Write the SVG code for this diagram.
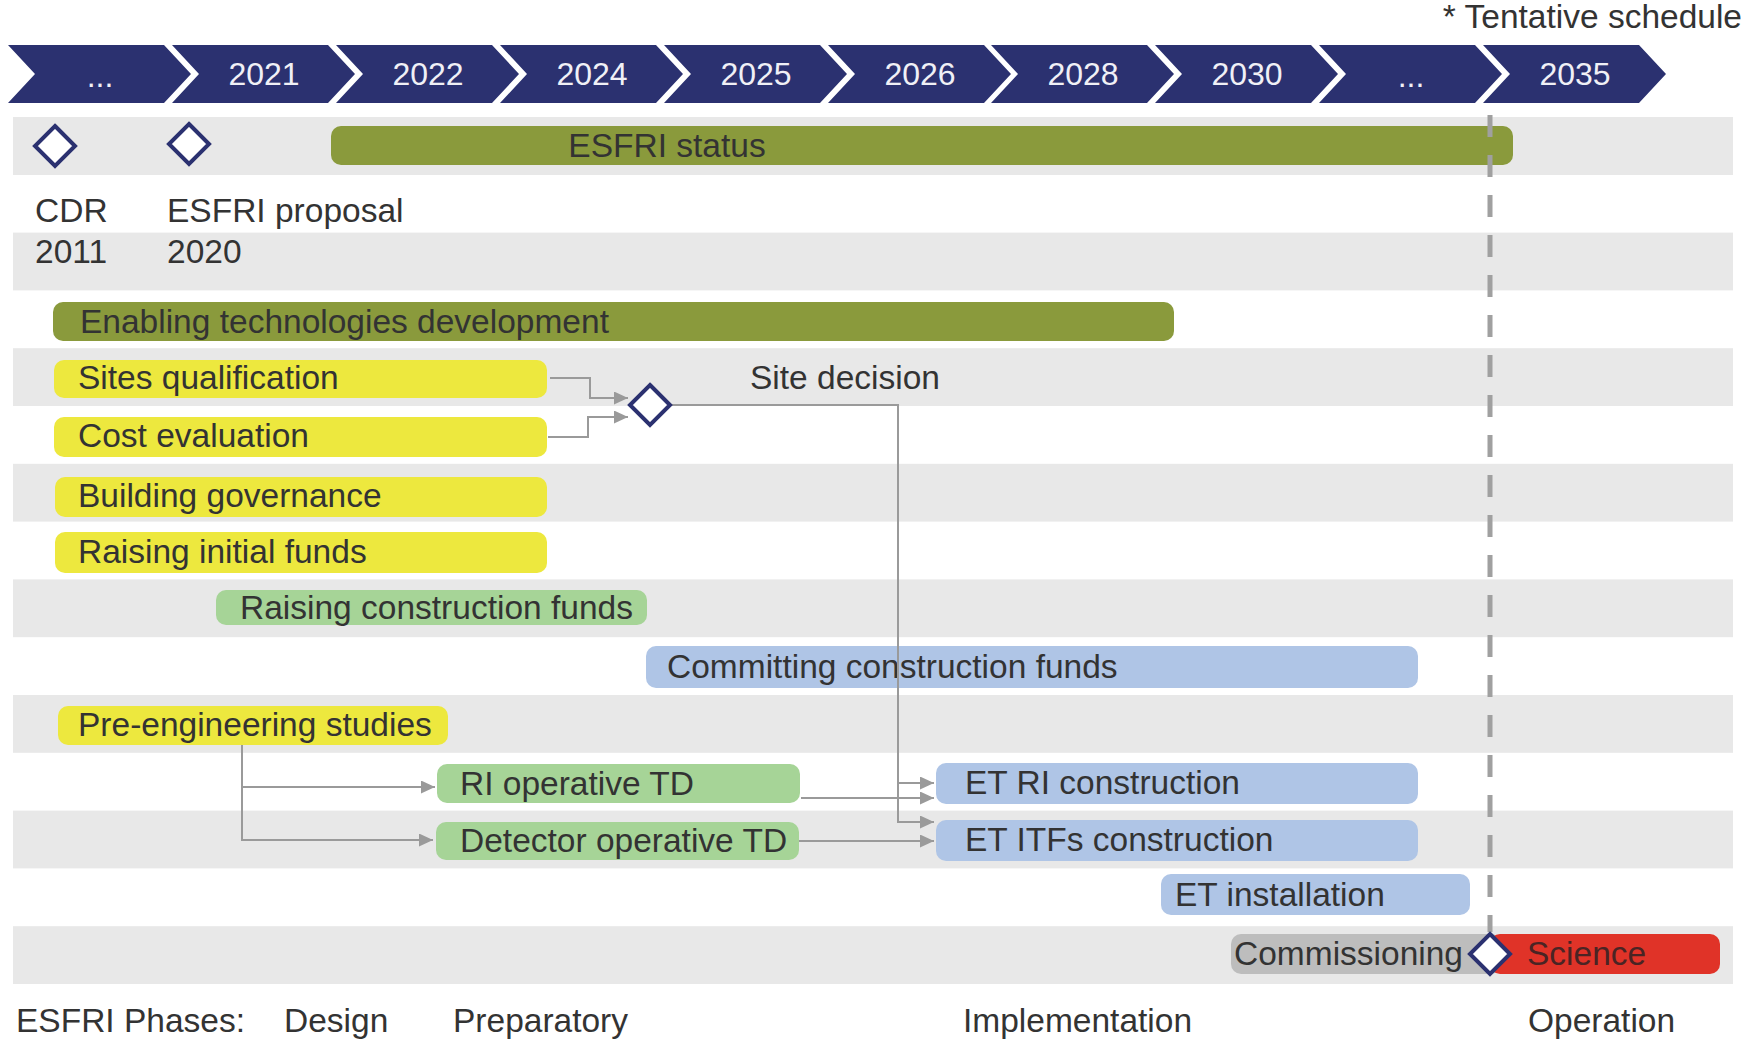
<svg xmlns="http://www.w3.org/2000/svg" xmlns:xlink="http://www.w3.org/1999/xlink" width="1744" height="1039" viewBox="0 0 1744 1039">
<style>
text{font-family:"Liberation Sans",Arial,Helvetica,sans-serif;font-size:33.5px;fill:#333333}
.yr{font-size:32px;fill:#f0f0f6;text-anchor:middle}
.band{fill:#e8e8e8}
.chev{fill:#2b3170}
.olive{fill:#8a9a3c}
.yel{fill:#ede83e}
.grn{fill:#a6d497}
.blu{fill:#afc5e6}
.gry{fill:#bdbdbd}
.red{fill:#e03328}
.ms{fill:#ffffff;stroke:#2b3170;stroke-width:4}
.con{fill:none;stroke:#9a9a9a;stroke-width:2}
.dash{stroke:#a0a0a0;stroke-width:5;stroke-dasharray:22 18}
</style>
<defs>
<polygon id="chev" points="0,45 156,45 183,74 156,103 0,103 27,74"/>
<marker id="ah" markerUnits="userSpaceOnUse" markerWidth="14" markerHeight="13" refX="14" refY="6.5" orient="auto">
<path d="M0,0 L14,6.5 L0,13 z" fill="#9a9a9a"/>
</marker>
</defs>
<rect width="1744" height="1039" fill="#ffffff"/>
<g id="bands">
<rect class="band" x="13" y="117" width="1720" height="58"/>
<rect class="band" x="13" y="232.6" width="1720" height="57.8"/>
<rect class="band" x="13" y="348.2" width="1720" height="57.8"/>
<rect class="band" x="13" y="463.8" width="1720" height="57.8"/>
<rect class="band" x="13" y="579.4" width="1720" height="57.8"/>
<rect class="band" x="13" y="695" width="1720" height="57.8"/>
<rect class="band" x="13" y="810.6" width="1720" height="57.8"/>
<rect class="band" x="13" y="926.2" width="1720" height="57.8"/>
</g>
<text id="note" x="1742" y="28" text-anchor="end">* Tentative schedule</text>
<g id="timeline">
<use xlink:href="#chev" href="#chev" class="chev" x="8"/>
<use xlink:href="#chev" href="#chev" class="chev" x="172"/>
<use xlink:href="#chev" href="#chev" class="chev" x="336"/>
<use xlink:href="#chev" href="#chev" class="chev" x="500"/>
<use xlink:href="#chev" href="#chev" class="chev" x="664"/>
<use xlink:href="#chev" href="#chev" class="chev" x="828"/>
<use xlink:href="#chev" href="#chev" class="chev" x="991"/>
<use xlink:href="#chev" href="#chev" class="chev" x="1155"/>
<use xlink:href="#chev" href="#chev" class="chev" x="1319"/>
<use xlink:href="#chev" href="#chev" class="chev" x="1483"/>
<text class="yr" x="100" y="87">...</text>
<text class="yr" x="264" y="85">2021</text>
<text class="yr" x="428" y="85">2022</text>
<text class="yr" x="592" y="85">2024</text>
<text class="yr" x="756" y="85">2025</text>
<text class="yr" x="920" y="85">2026</text>
<text class="yr" x="1083" y="85">2028</text>
<text class="yr" x="1247" y="85">2030</text>
<text class="yr" x="1411" y="87">...</text>
<text class="yr" x="1575" y="85">2035</text>
</g>
<g id="esfri-status"><rect class="olive" x="331" y="126" width="1182" height="39" rx="10"/><text x="667" y="157" text-anchor="middle">ESFRI status</text></g>
<g id="cdr"><polygon class="ms" points="55,126 75,146 55,166 35,146"/><text x="35" y="222">CDR</text><text x="35" y="263">2011</text></g>
<g id="esfri-proposal"><polygon class="ms" points="189,124 209,144 189,164 169,144"/><text x="167" y="222">ESFRI proposal</text><text x="167" y="263">2020</text></g>
<g id="enabling"><rect class="olive" x="53" y="302" width="1121" height="39" rx="10"/><text x="80" y="333">Enabling technologies development</text></g>
<g id="sites"><rect class="yel" x="54" y="360" width="493" height="38" rx="10"/><text x="78" y="389">Sites qualification</text></g>
<g id="cost"><rect class="yel" x="54" y="417" width="493" height="40" rx="10"/><text x="78" y="447">Cost evaluation</text></g>
<g id="governance"><rect class="yel" x="55" y="477" width="492" height="40" rx="10"/><text x="78" y="507">Building governance</text></g>
<g id="initial-funds"><rect class="yel" x="55" y="532" width="492" height="41" rx="10"/><text x="78" y="563">Raising initial funds</text></g>
<g id="construction-funds"><rect class="grn" x="216" y="590" width="431" height="35" rx="10"/><text x="240" y="619">Raising construction funds</text></g>
<g id="committing"><rect class="blu" x="646" y="646" width="772" height="42" rx="10"/><text x="667" y="678">Committing construction funds</text></g>
<g id="pre-eng"><rect class="yel" x="58" y="706" width="390" height="39" rx="10"/><text x="78" y="736">Pre-engineering studies</text></g>
<g id="ri-td"><rect class="grn" x="437" y="764" width="363" height="39" rx="10"/><text x="460" y="795">RI operative TD</text></g>
<g id="det-td"><rect class="grn" x="436" y="822" width="363" height="38" rx="10"/><text x="460" y="852">Detector operative TD</text></g>
<g id="et-ri"><rect class="blu" x="936" y="763" width="482" height="41" rx="10"/><text x="965" y="794">ET RI construction</text></g>
<g id="et-itf"><rect class="blu" x="936" y="820" width="482" height="41" rx="10"/><text x="965" y="851">ET ITFs construction</text></g>
<g id="et-install"><rect class="blu" x="1161" y="874" width="309" height="41" rx="10"/><text x="1175" y="906">ET installation</text></g>
<g id="commissioning"><rect class="gry" x="1231" y="934" width="270" height="40" rx="10"/><text x="1234" y="965">Commissioning</text></g>
<g id="science"><rect class="red" x="1490" y="934" width="230" height="40" rx="10"/><text x="1527" y="965" style="fill:#4a2424">Science</text></g>
<g id="connectors">
<path class="con" d="M550,378 H590 V398 H628" marker-end="url(#ah)"/>
<path class="con" d="M548,437 H588 V417 H628" marker-end="url(#ah)"/>
<path class="con" d="M670,405 H898 V822 H934" marker-end="url(#ah)"/>
<path class="con" d="M898,783 H934" marker-end="url(#ah)"/>
<path class="con" d="M801,798 H934" marker-end="url(#ah)"/>
<path class="con" d="M799,841 H934" marker-end="url(#ah)"/>
<path class="con" d="M242,745 V840 H433" marker-end="url(#ah)"/>
<path class="con" d="M242,787 H435" marker-end="url(#ah)"/>
</g>
<line id="now-line" class="dash" x1="1490" y1="115" x2="1490" y2="932"/>
<g id="site-decision"><polygon class="ms" points="650,385 670,405 650,425 630,405"/><text x="750" y="389">Site decision</text></g>
<g id="operation-start"><polygon class="ms" points="1490,934 1510,954 1490,974 1470,954"/></g>
<g id="phases">
<text x="16" y="1032">ESFRI Phases:</text>
<text x="284" y="1032">Design</text>
<text x="453" y="1032">Preparatory</text>
<text x="963" y="1032">Implementation</text>
<text x="1528" y="1032">Operation</text>
</g>
</svg>
